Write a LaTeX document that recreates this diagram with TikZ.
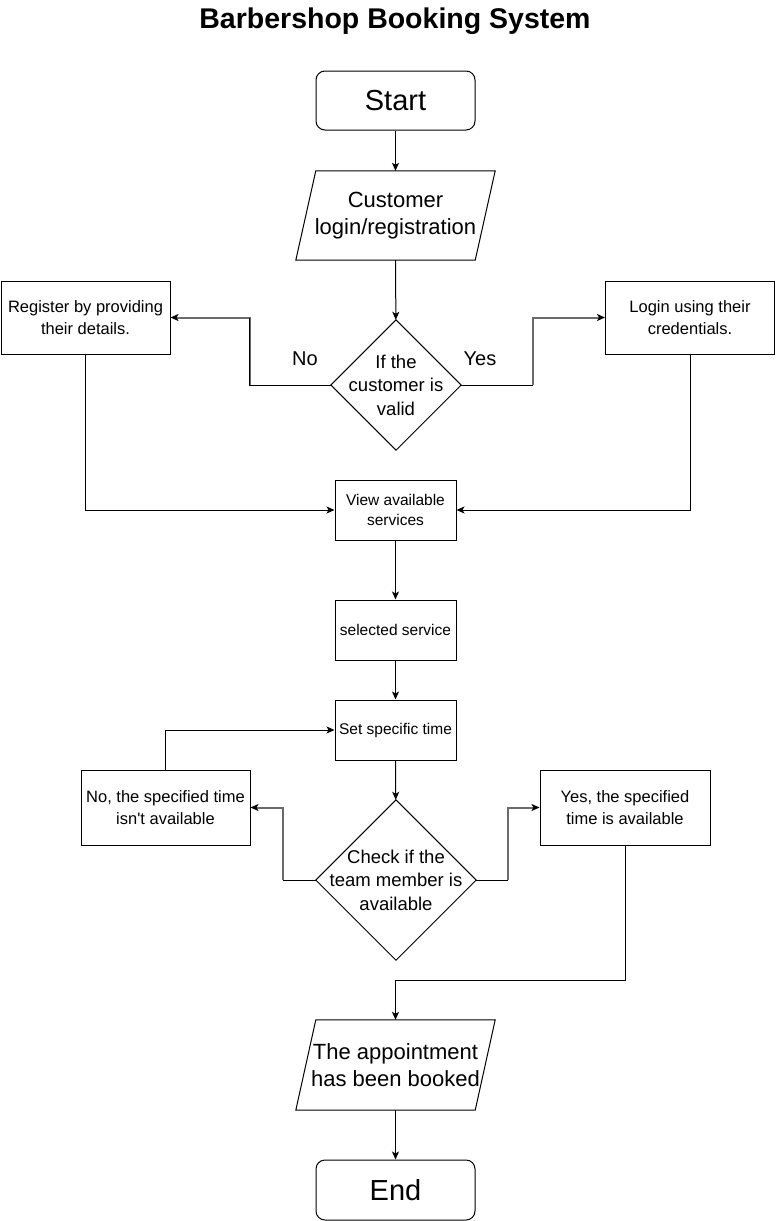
\documentclass[tikz,border=0pt]{standalone}
\usepackage{fontspec}
\setmainfont{Liberation Sans}
\usetikzlibrary{arrows.meta,calc}

\definecolor{edgegray}{HTML}{6A6A6A}

\tikzset{
  box/.style={draw, line width=1pt, inner sep=0pt, align=center},
  slot/.style={inner sep=0pt, align=center},
  conn/.style={line width=1pt, -{Stealth[length=8pt,width=7pt,inset=2pt,color=black]}},
  grayconn/.style={conn, line width=2pt, draw=edgegray},
  seg/.style={line width=1pt},
  bigtxt/.style={font=\fontsize{29}{34}\selectfont},
  iotxt/.style={font=\fontsize{22}{27.5}\selectfont},
  dectxt/.style={font=\fontsize{18.5}{23.5}\selectfont},
  smalltxt/.style={font=\fontsize{16.5}{21.5}\selectfont},
  tinytxt/.style={font=\fontsize{15.5}{20}\selectfont},
}

\begin{document}
\begin{tikzpicture}[x=1pt,y=-1pt]
\useasboundingbox (0,0) rectangle (776,1221);

% title
\node[font=\bfseries\fontsize{28.5}{34}\selectfont] (title) at (395,21) {Barbershop Booking System};

% terminals
\node[box, bigtxt, rounded corners=9pt, minimum width=159pt, minimum height=59pt] (start) at (395.5,100.5) {Start};
\node[box, bigtxt, rounded corners=9pt, minimum width=159pt, minimum height=60pt] (end) at (395.5,1190) {End};

% input/output parallelograms (outline drawn from the node corners)
\node[slot, iotxt, minimum width=199pt, minimum height=89pt] (cust) at (395.5,215.5) {Customer\\login/registration};
\draw[line width=1pt] ($(cust.north west)+(20,0)$) -- (cust.north east) -- ($(cust.south east)+(-20,0)$) -- (cust.south west) -- cycle;

\node[slot, iotxt, minimum width=199pt, minimum height=90pt] (booked) at (395.5,1065) {The appointment\\has been booked};
\draw[line width=1pt] ($(booked.north west)+(20,0)$) -- (booked.north east) -- ($(booked.south east)+(-20,0)$) -- (booked.south west) -- cycle;

% decisions (diamond outline drawn through the node anchors)
\node[slot, dectxt, minimum width=130pt, minimum height=130pt] (dec1) at (396,385) {If the\\customer is\\valid};
\draw[line width=1pt] (dec1.north) -- (dec1.east) -- (dec1.south) -- (dec1.west) -- cycle;

\node[slot, dectxt, minimum width=160pt, minimum height=160pt] (dec2) at (396,880) {Check if the\\team member is\\available};
\draw[line width=1pt] (dec2.north) -- (dec2.east) -- (dec2.south) -- (dec2.west) -- cycle;

% process boxes
\node[box, smalltxt, minimum width=169pt, minimum height=73pt] (reg) at (85.5,317.5) {Register by providing\\their details.};
\node[box, smalltxt, minimum width=169pt, minimum height=73pt] (login) at (690,317.5) {Login using their\\credentials.};
\node[box, tinytxt, minimum width=121pt, minimum height=60pt] (view) at (395.5,510) {View available\\services};
\node[box, tinytxt, minimum width=121pt, minimum height=60pt] (sel) at (395.5,630) {selected service};
\node[box, tinytxt, minimum width=121pt, minimum height=60pt] (settime) at (395.5,730) {Set specific time};
\node[box, smalltxt, minimum width=169pt, minimum height=75pt] (notime) at (165.5,807.5) {No, the specified time\\isn\textquotesingle t available};
\node[box, smalltxt, minimum width=170pt, minimum height=75pt] (yestime) at (625,807.5) {Yes, the specified\\time is available};

% branch labels
\node[font=\fontsize{20}{24}\selectfont] (nolbl) at (305,359) {No};
\node[font=\fontsize{20}{24}\selectfont] (yeslbl) at (480,359) {Yes};

% main flow
\draw[conn] (start) -- (cust);
\draw[conn] (cust) -- (dec1);
\draw[conn] (view) -- (sel);
\draw[conn] (sel) -- (settime);
\draw[conn] (settime) -- (dec2);
\draw[conn] (booked) -- (end);

% first decision branches (grey routing, black stub at the decision)
\coordinate (d1l) at ($(dec1.west)+(-81,0)$);
\coordinate (d1r) at ($(dec1.east)+(72,0)$);
\draw[grayconn] (d1l |- dec1.west) |- (reg.east);
\draw[seg] (dec1.west) -- (d1l) -- (d1l |- reg.east);

\draw[grayconn] (d1r) |- (login.west);
\draw[seg] (dec1.east) -- (d1r);

\draw[conn] (reg.south) |- (view.west);
\draw[conn] (login.south) |- (view.east);

% second decision branches
\coordinate (d2l) at ($(dec2.west)+(-33,0)$);
\coordinate (d2r) at ($(dec2.east)+(32,0)$);
\draw[grayconn] (d2l) |- (notime.east);
\draw[seg] (dec2.west) -- (d2l);

\draw[grayconn] (d2r) |- (yestime.west);
\draw[seg] (dec2.east) -- (d2r);

\draw[conn] (notime.north) |- (settime.west);
\draw[conn] (yestime.south) -- ++(0,135) -| (booked.north);
\end{tikzpicture}
\end{document}
